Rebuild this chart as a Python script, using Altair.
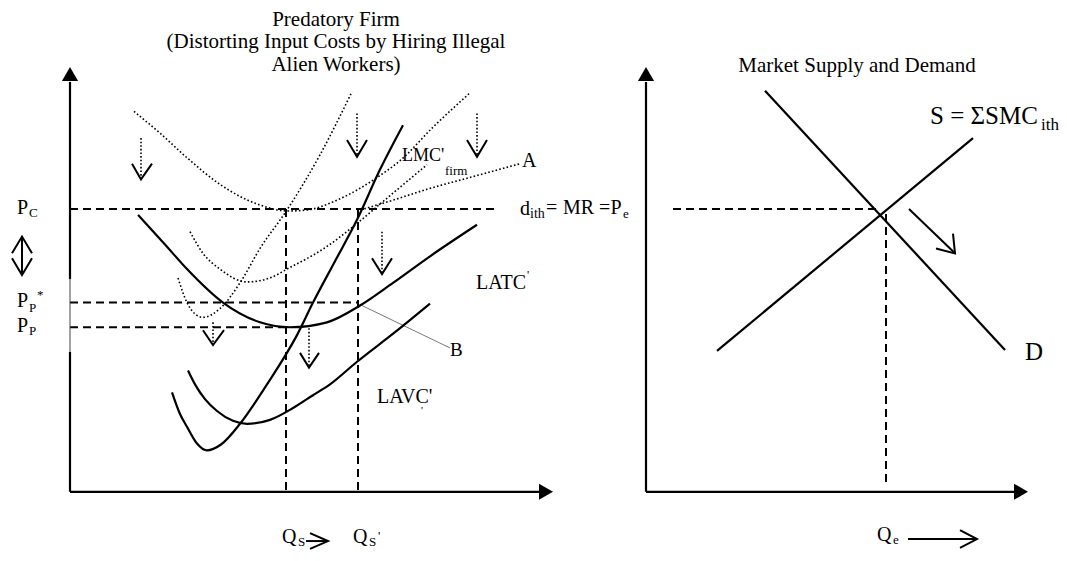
import altair as alt
import pandas as pd

# ---------------- curve data (left panel: predatory firm) ----------------
# solid curves
latc_x = [138, 165, 187, 223, 260, 290, 327, 360, 393, 430, 477]
latc_y = [218, 248, 273, 307, 327, 332, 327, 310, 287, 260, 228]
lavc_x = [188, 195, 205, 217, 233, 247, 270, 293, 313, 330, 357, 395, 430]
lavc_y = [376, 390, 405, 417, 427, 430, 426, 414, 401, 390, 367, 337, 308]
lmc_x = [172, 180, 187, 197, 207, 221, 240, 267, 297, 313, 335, 357, 380, 403]
lmc_y = [398, 420, 433, 450, 457, 451, 430, 390, 340, 307, 265, 223, 172, 127]
# dotted curves (original cost curves)
bigu_x = [134, 160, 187, 220, 260, 288, 307, 337, 360, 380, 400, 433, 469]
bigu_y = [113, 135, 160, 187, 208, 214, 213, 203, 191, 178, 163, 129, 95]
smc_x = [178, 187, 197, 203, 220, 240, 260, 287, 320, 352]
smc_y = [282, 307, 320, 322, 313, 287, 252, 213, 157, 93]
midu_x = [190, 203, 220, 247, 270, 287, 327, 353, 380, 427]
midu_y = [235, 257, 273, 286, 282, 273, 250, 230, 207, 167]
aline_x = [357, 393, 427, 477, 520]
aline_y = [214, 203, 192, 178, 166]

# ---------------- right panel: market supply and demand ----------------
demand_x = [765, 1005]
demand_y = [92, 355]
supply_x = [717, 973]
supply_y = [356, 140]

# ---------------- axes & guide segments ----------------
axis_thick = [(70, 83, 70, 283), (70, 357, 70, 499), (70, 499, 540, 499),
              (646, 83, 646, 499), (646, 499, 1015, 499)]
axis_thin = [(70, 283, 70, 357)]
dashed = [(70, 212, 497, 212), (70, 307, 358, 307), (70, 332, 285, 332),
          (286, 212, 286, 499), (358, 212, 358, 499),
          (673, 212, 878, 212), (886, 217, 886, 494)]
b_leader = [(362, 310, 450, 353)]
arrow_tips_up = [(70, 75), (646, 75)]
arrow_tips_right = [(546, 499), (1021, 499)]

# dotted shafts of the "shift down" arrows: x, y_top, y_tip
down_shafts = [(141, 140, 181), (357, 115, 158), (477, 115, 158),
               (382, 235, 277), (213, 327, 349), (309, 333, 372)]
# open arrow heads / chevrons: lists of points
heads = [
    [(132, 166), (141, 182), (152, 166)],
    [(347, 142), (357, 159), (367, 142)],
    [(467, 142), (477, 159), (487, 142)],
    [(372, 262), (382, 278), (392, 262)],
    [(203, 335), (213, 350), (224, 335)],
    [(300, 358), (309, 373), (319, 358)],
    [(12, 257), (22, 240), (32, 257)],
    [(12, 262), (22, 279), (32, 262)],
    [(936, 252), (955, 257), (953, 237)],
    [(960, 538), (977, 547), (960, 556)],
    [(310, 541), (328, 549), (310, 557)],
]
solid_segments = [(22, 240, 22, 279), (909, 212, 955, 257), (908, 547, 977, 547),
                  (306, 549, 327, 549)]

# ---------------- texts ----------------
titles = [("Predatory Firm", 336, 20, 21),
          ("(Distorting Input Costs by Hiring Illegal", 336, 43, 21),
          ("Alien Workers)", 336, 66, 21),
          ("Market Supply and Demand", 857, 67, 21)]
labels = [
    ("P", 17, 211, 20), ("C", 29, 216, 13),
    ("P", 17, 305, 20), ("P", 29, 312, 13), ("*", 37, 299, 13),
    ("P", 17, 331, 20), ("P", 29, 336, 13),
    ("d", 520, 212, 20), ("ith", 530, 217, 14), ("=", 546, 211, 20),
    ("MR =P", 563, 211, 20), ("e", 623, 217, 13),
    ("LMC'", 402, 158, 18), ("firm", 445, 173, 13),
    ("A", 522, 163, 20), ("B", 450, 355, 19),
    ("LATC", 476, 287, 20), ("'", 527, 279, 12),
    ("LAVC'", 377, 403, 20), ("'", 421, 417, 11),
    ("Q", 282, 545, 20), ("S", 298, 550, 13),
    ("Q", 353, 545, 20), ("S", 369, 550, 13), ("'", 378, 544, 13),
    ("Q", 877, 543, 20), ("e", 893, 548, 13),
    ("S = ΣSMC", 930, 118, 25), ("ith", 1041, 127, 17),
    ("D", 1025, 357, 25),
]

FONT = "Liberation Serif"
W, H = 1051, 545
xs = alt.Scale(domain=[8, 8 + W], nice=False, zero=False)
ys = alt.Scale(domain=[8, 8 + H], nice=False, zero=False, reverse=True)


def curves_df(curves):
    rows = []
    for name, cx, cy in curves:
        for i, (a, b) in enumerate(zip(cx, cy)):
            rows.append({"c": name, "i": i, "x": a, "y": b})
    return pd.DataFrame(rows)


def seg_df(segs):
    return pd.DataFrame([{"x": a, "y": b, "x2": c, "y2": d} for a, b, c, d in segs])


def curve_layer(df, dash, width, interp="monotone"):
    kw = dict(strokeWidth=width, color="black", interpolate=interp)
    if dash:
        kw["strokeDash"] = dash
    return alt.Chart(df).mark_line(**kw).encode(
        x=alt.X("x:Q", scale=xs, axis=None),
        y=alt.Y("y:Q", scale=ys, axis=None),
        detail="c:N", order="i:Q")


def rule_layer(df, width, color="black", dash=None):
    kw = dict(strokeWidth=width, color=color)
    if dash:
        kw["strokeDash"] = dash
    return alt.Chart(df).mark_rule(**kw).encode(
        x=alt.X("x:Q", scale=xs, axis=None), y=alt.Y("y:Q", scale=ys, axis=None),
        x2="x2:Q", y2="y2:Q")


solid = curves_df([("latc", latc_x, latc_y), ("lavc", lavc_x, lavc_y),
                   ("lmc", lmc_x, lmc_y), ("d", demand_x, demand_y),
                   ("s", supply_x, supply_y)])
dotted = curves_df([("bigu", bigu_x, bigu_y), ("smc", smc_x, smc_y),
                    ("midu", midu_x, midu_y), ("a", aline_x, aline_y)])
heads_df = curves_df([(f"h{k}", [p[0] for p in h], [p[1] for p in h])
                      for k, h in enumerate(heads)])
shafts_df = seg_df([(x, y0, x, y1) for x, y0, y1 in down_shafts])

layers = [
    rule_layer(seg_df(dashed), 2, dash=[8, 5]),
    rule_layer(seg_df(b_leader), 0.8, color="#555555"),
    rule_layer(seg_df(axis_thick), 2.2),
    rule_layer(seg_df(axis_thin), 1, color="#444444"),
    rule_layer(shafts_df, 1.6, dash=[1.6, 2]),
    rule_layer(seg_df(solid_segments), 2),
    curve_layer(dotted, [1.6, 2.2], 1.6),
    curve_layer(solid, None, 2.2),
    curve_layer(heads_df, None, 2, interp="linear"),
    alt.Chart(pd.DataFrame([{"x": a, "y": b} for a, b in arrow_tips_up])).mark_point(
        shape="triangle-up", filled=True, color="black", size=260, opacity=1).encode(
        x=alt.X("x:Q", scale=xs, axis=None), y=alt.Y("y:Q", scale=ys, axis=None)),
    alt.Chart(pd.DataFrame([{"x": a, "y": b} for a, b in arrow_tips_right])).mark_point(
        shape="triangle-right", filled=True, color="black", size=260, opacity=1).encode(
        x=alt.X("x:Q", scale=xs, axis=None), y=alt.Y("y:Q", scale=ys, axis=None)),
    alt.Chart(pd.DataFrame([{"t": t, "x": a, "y": b, "s": s} for t, a, b, s in titles])).mark_text(
        font=FONT, align="center", baseline="middle", color="black").encode(
        x=alt.X("x:Q", scale=xs, axis=None), y=alt.Y("y:Q", scale=ys, axis=None),
        text="t:N", size=alt.Size("s:Q", scale=None, legend=None)),
    alt.Chart(pd.DataFrame([{"t": t, "x": a, "y": b, "s": s} for t, a, b, s in labels])).mark_text(
        font=FONT, align="left", baseline="middle", color="black").encode(
        x=alt.X("x:Q", scale=xs, axis=None), y=alt.Y("y:Q", scale=ys, axis=None),
        text="t:N", size=alt.Size("s:Q", scale=None, legend=None)),
]

chart = alt.layer(*layers).properties(
    width=W, height=H, padding=0, background="white",
    autosize=alt.AutoSizeParams(type="fit", contains="padding"),
).configure_view(stroke=None, strokeWidth=0)

chart.save("out.html", embed_options={"renderer": "svg", "actions": False})
